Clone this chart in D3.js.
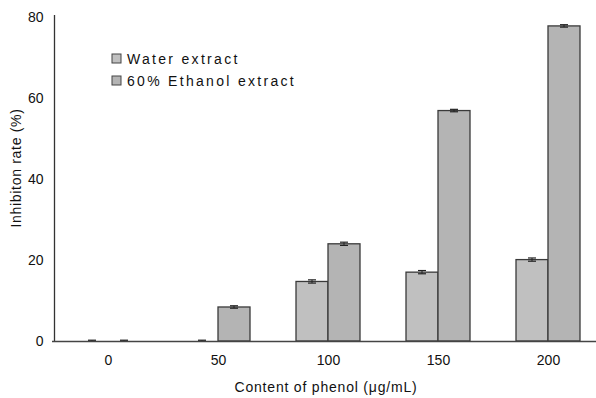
<!DOCTYPE html>
<html>
<head>
<meta charset="utf-8">
<script src="https://cdn.jsdelivr.net/npm/d3@7"></script>
<style>
  body { margin: 0; background: #fff; }
  text { font-family: "Liberation Sans", Arial, sans-serif; fill: #111; }
</style>
</head>
<body>
<script>
var categories = ["0", "50", "100", "150", "200"];
var seriesNames = ["Water extract", "60% Ethanol extract"];
var waterValues = [0, 0, 14.7, 17.0, 20.1];
var ethanolValues = [0, 8.4, 24.0, 56.9, 77.8];
var waterErrors = [0.2, 0.2, 0.4, 0.4, 0.4];
var ethanolErrors = [0.2, 0.3, 0.4, 0.3, 0.3];
var yTicks = [0, 20, 40, 60, 80];

var svg = d3.select("body")
    .append("svg")
    .attr("width", 596)
    .attr("height", 398)
    .style("display", "block");

var colors = ["#c0c0c0", "#b4b4b4"];

var x = d3.scalePoint()
    .domain(categories)
    .range([53, 603])
    .padding(0.5);

var xs = d3.scaleBand()
    .domain(seriesNames)
    .range([-32, 32]);

var y = d3.scaleLinear()
    .domain([0, 80])
    .range([341, 17]);

var table = [];
categories.forEach(function (c, i) {
    table.push({cat: c, s: seriesNames[0], v: waterValues[i], e: waterErrors[i]});
    table.push({cat: c, s: seriesNames[1], v: ethanolValues[i], e: ethanolErrors[i]});
});

// bars
svg.append("g").selectAll("rect")
    .data(table.filter(function (d) { return d.v > 0; }))
    .enter()
    .append("rect")
    .attr("x", function (d) { return x(d.cat) + xs(d.s); })
    .attr("y", function (d) { return y(d.v); })
    .attr("width", xs.bandwidth())
    .attr("height", function (d) { return y(0) - y(d.v); })
    .attr("fill", function (d) { return colors[seriesNames.indexOf(d.s)]; })
    .attr("stroke", "#3a3a3a")
    .attr("stroke-width", 1.3);

// error bars
var eb = svg.append("g").selectAll("g")
    .data(table)
    .enter()
    .append("g")
    .attr("transform", function (d) {
        return "translate(" + (x(d.cat) + xs(d.s) + xs.bandwidth() / 2) + ",0)";
    });
eb.append("line")
    .attr("y1", function (d) { return y(d.v + d.e); })
    .attr("y2", function (d) { return y(Math.max(0, d.v - d.e)); })
    .attr("stroke", "#222").attr("stroke-width", 1);
eb.append("line")
    .attr("x1", -4).attr("x2", 4)
    .attr("y1", function (d) { return y(d.v + d.e); })
    .attr("y2", function (d) { return y(d.v + d.e); })
    .attr("stroke", "#222").attr("stroke-width", 1.2);
eb.append("line")
    .attr("x1", -4).attr("x2", 4)
    .attr("y1", function (d) { return y(Math.max(0, d.v - d.e)); })
    .attr("y2", function (d) { return y(Math.max(0, d.v - d.e)); })
    .attr("stroke", "#222").attr("stroke-width", 1.2);

// y axis
var yAxis = d3.axisLeft(y).tickValues(yTicks).tickSize(0).tickPadding(11);
var gy = svg.append("g")
    .attr("transform", "translate(54.5,0)")
    .call(yAxis);
gy.select(".domain").attr("stroke", "#333").attr("stroke-width", 1.3)
    .attr("d", "M0," + (y(80) - 2) + "V" + y(0));
gy.selectAll("text").style("font-size", "14px").attr("fill", "#111");

// x axis
var xAxis = d3.axisBottom(x).tickSize(0).tickPadding(14);
var gx = svg.append("g")
    .attr("transform", "translate(0," + (y(0) + 0.5) + ")")
    .call(xAxis);
gx.select(".domain").attr("stroke", "#444").attr("stroke-width", 1.3)
    .attr("d", "M52,0H596");
gx.selectAll("text").style("font-size", "14px").attr("fill", "#111");

// axis titles
svg.append("text")
    .attr("transform", "translate(21,168) rotate(-90)")
    .attr("text-anchor", "middle")
    .style("font-size", "14px")
    .style("letter-spacing", "0.7px")
    .text("Inhibiton rate (%)");

svg.append("text")
    .attr("x", 326)
    .attr("y", 392)
    .attr("text-anchor", "middle")
    .style("font-size", "14px")
    .style("letter-spacing", "0.8px")
    .text("Content of phenol (\u03bcg/mL)");

// legend
var leg = svg.append("g").selectAll("g")
    .data(seriesNames)
    .enter()
    .append("g")
    .attr("transform", function (d, i) { return "translate(112," + (54 + i * 22) + ")"; });
leg.append("rect")
    .attr("width", 9).attr("height", 9)
    .attr("fill", function (d, i) { return colors[i]; })
    .attr("stroke", "#444").attr("stroke-width", 1);
leg.append("text")
    .attr("x", 15).attr("y", 10)
    .style("font-size", "14px")
    .style("letter-spacing", "2.3px")
    .text(function (d) { return d; });
</script>
</body>
</html>
